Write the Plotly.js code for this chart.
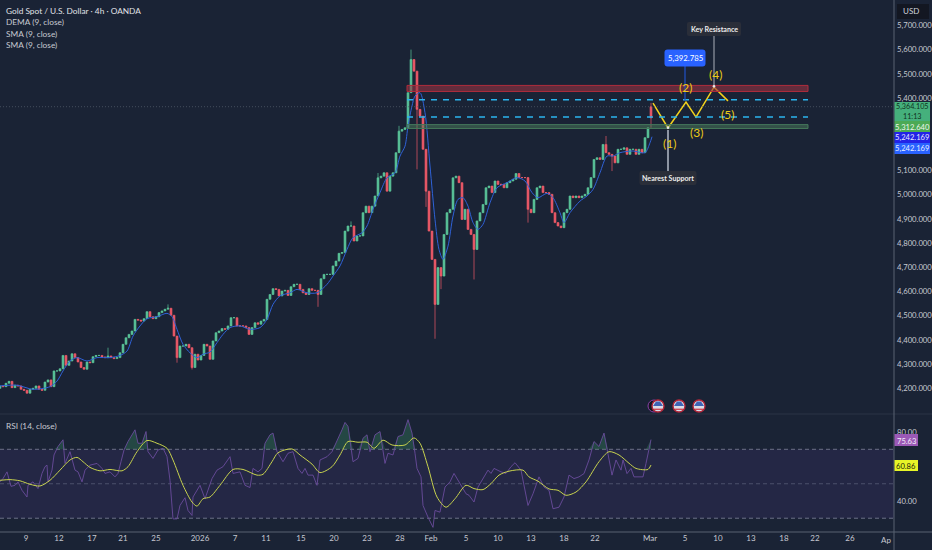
<!DOCTYPE html>
<html>
<head>
<meta charset="utf-8">
<script src="https://cdn.plot.ly/plotly-3.0.1.min.js"></script>
<style>html,body{margin:0;padding:0;background:#1a2335;overflow:hidden}</style>
</head>
<body>
<div id="chart" style="width:932px;height:550px"></div>
<script>
// Candle closes, one bar every 3 time units
const closes = [
4210,4207,4221,4229,4203,4213,4210,4196,4192,4180,
4196,4200,4210,4196,4192,4226,4235,4207,4272,4272,
4281,4336,4295,4313,4343,4327,4309,4286,4279,4309,
4306,4331,4336,4336,4330,4327,4334,4327,4323,4327,
4347,4382,4409,4423,4437,4485,4482,4478,4488,4517,
4496,4488,4496,4513,4520,4527,4531,4502,4416,4327,
4375,4375,4382,4368,4286,4341,4317,4336,4382,4375,
4320,4396,4430,4437,4447,4444,4458,4492,4492,4458,
4458,4458,4451,4423,4451,4471,4465,4478,4485,4568,
4588,4612,4609,4582,4602,4605,4584,4620,4630,4630,
4609,4595,4588,4612,4605,4605,4588,4653,4671,4671,
4671,4706,4726,4758,4761,
4850,4871,4871,4809,4830,4830,4926,4953,4926,4953,4995,5070,
5077,5091,5015,5077,5091,5174,5263,5270,5277,5422,
5559,5511,5353,5325,5188,5015,4850,4733,4547,4699,
4664,4836,4926,4940,5070,5077,5050,4898,4940,4857,
4836,4774,4892,4926,4960,5029,5036,5009,5057,5043,
5043,5029,5050,5057,5064,5088,5071,5071,5071,4940,
4926,4981,5029,5036,5009,5009,5002,4926,4885,4871,
4864,4926,4940,4995,4988,4995,4988,4995,5002,5029,
5071,5146,5153,5146,5208,5174,5167,5160,5132,5188,
5188,5194,5167,5188,5188,5167,5188,5174,5236,5277,
5318];
const lastOpen = 5364;
const firstOpen = 4200;
const wickHighs = {36:4368,56:4547,117:4890,137:5600,202:5243,217:5380,133:5285,126:5090};
const wickLows = {59:4306,64:4278,106:4537,139:5105,142:4950,145:4405,147:4610,158:4650,176:4885,204:5098,217:5277};

const smaTime = [0,17,33,50,57,63,70,77,87,97,110,120,127,133,140,147,157,167,172,177,183,190,197,203,210,217,223,230,240,250,260,267,273,280,290,297,307,317,327,333,340,347,353,362,367,373,380,387,395,400,405,408,412,415,420,425,430,435,439,443,448,453,458,463,468,473,478,483,490,497,507,517,525,532,538,547,553,560,564,570,580,587,593,600,607,613,620,633,645,650,652];
const smaValues = [4210,4213,4196,4207,4230,4272,4313,4327,4313,4327,4327,4336,4354,4416,4458,4488,4496,4510,4496,4444,4382,4347,4327,4341,4350,4389,4423,4451,4458,4444,4451,4485,4547,4582,4595,4609,4595,4595,4630,4664,4706,4774,4823,4843,4871,4940,5009,5070,5091,5160,5201,5284,5367,5408,5422,5339,5119,4898,4774,4733,4788,4912,4981,4988,4953,4885,4857,4878,4967,5029,5050,5071,5057,5009,4988,5006,4988,4926,4885,4926,4974,4995,5022,5091,5160,5160,5174,5181,5174,5215,5240];

const rsiTime = [0,3,7,8,11,15,18,22,27,28,33,38,42,45,47,48,52,54,58,63,65,70,75,78,82,85,90,97,102,105,110,115,118,121,124,128,135,138,142,146,148,153,158,163,167,170,173,177,180,185,188,192,193,200,205,212,217,223,230,233,240,245,250,253,258,262,265,270,273,277,283,288,293,298,302,305,308,313,317,320,327,332,337,342,345,348,353,358,363,367,370,375,380,385,388,393,398,403,408,412,415,417,421,423,428,433,435,440,445,450,454,458,463,466,469,474,478,483,488,491,494,501,506,511,515,521,524,528,533,539,544,549,553,559,564,569,574,579,584,589,594,599,604,608,612,616,621,623,627,631,634,639,643,646,651];
const rsiValues = [51.1,53,56.9,55,48.5,49.1,51.1,46.2,42.3,49.1,51.1,47.2,56,59.9,60.8,51.1,57.9,66.7,71.6,75.5,61.8,68.6,57.9,56.9,51.1,57.9,60.8,61.8,58.9,56,56.9,54,56,62.8,69.6,74.5,81.3,73.5,73.5,80.3,68.6,64.7,69.6,70.6,65.7,52,29.6,29.6,37.4,41.9,34.5,31.6,42.3,49.1,41.3,53,57.9,59.9,65.7,56,56.9,49.1,47.8,58.9,56.9,58.9,73.5,78.4,79.4,68.6,62.8,67.7,68.6,58.9,56,58.9,55,55,49.1,63.8,65.7,68.6,74.5,81.3,85.6,83.3,62.8,64.7,76.4,78.4,68.6,78.4,80.3,61.8,67.7,66.7,77.4,78.4,87.2,79.4,67.7,58.9,54,37.4,30.6,24.7,34.5,33.5,48.1,51.1,56,52,47.2,44.2,43.3,39.4,48.1,53,57.9,56,58.9,56.9,56,59.9,62.2,57.9,48.1,37.4,44.2,54,48.1,46.2,35.5,36.4,42.3,55,53,54,55.9,63.8,74.5,71.6,79.4,66.7,55,63.8,57.9,63.8,55.9,58.9,54,54,54,61.8,75.63];

const rsiMaTime = [0,10,20,30,40,50,60,70,77,83,90,100,110,122,128,137,147,157,167,173,183,192,197,203,210,220,233,243,257,263,272,278,292,300,312,320,332,340,348,358,367,374,383,392,405,414,420,428,437,446,455,466,474,483,491,499,509,523,529,538,549,558,566,576,586,599,609,619,629,636,648,651];
const rsiMaValues = [52,52.4,51.7,49.7,48.7,52,57.9,63.8,65.3,62.8,59.5,57.5,58.3,57.5,59.9,68.6,75.1,73.5,70.6,63.8,49.1,39.4,37,41.3,42.3,49.1,58.3,58.3,55,55.5,62.8,68,70.2,66.7,61.4,56.5,59.9,66.7,74.5,74.1,74.1,70.6,75.3,72.5,72.5,76.6,73.5,59.9,42.3,36.4,41.3,49.1,47.2,46.6,50.1,55,57.3,57.9,54,51.5,47,46.2,43.3,45.2,51.1,62.8,68.6,66.7,61.9,58.9,58.3,60.86];

const zigzagTime = [653,668,686,696,714,728];
const zigzagPrice = [5379,5276,5383,5321,5445,5388];
const zoneTime = [407,808];
const resistanceZone = [5427,5452];
const supportZone = [5274,5290];
const dashedLevels = [5392.785,5321];
const currentPrice = 5364;

const priceTicks = [4200,4300,4400,4500,4600,4700,4800,4900,5000,5100,5400,5500,5600,5700];
const timeTickVals = [26,59,92,123,156,200,235,266,301,334,367,400,431,466,498,531,564,595,650,685,718,751,784,815,850];
const timeTickText = ['9','12','17','21','25','2026','7','11','15','20','23','28','Feb','5','10','13','18','22','Mar','5','10','13','18','22','26'];
const legendLines = ['Gold Spot / U.S. Dollar · 4h · OANDA','DEMA (9, close)','SMA (9, close)','SMA (9, close)'];
const waveLabels = [['(1)',669,143],['(2)',685,87],['(3)',696,132],['(4)',715,74],['(5)',727,114]];
const eventTimes = [658,679,699];

const W=894,H=532;
const px=x=>x/W, py=y=>1-y/H;
const FONT='Lato, "Liberation Sans", sans-serif';
const TXT='#c6c9d1';
const AX=7.7;

const x=closes.map((_,i)=>i*3);
const opens=closes.map((c,i)=>i===0?firstOpen:(i===closes.length-1?lastOpen:closes[i-1]));
const highs=closes.map((c,i)=>wickHighs[i]!==undefined?wickHighs[i]:Math.max(c,opens[i]));
const lows=closes.map((c,i)=>wickLows[i]!==undefined?wickLows[i]:Math.min(c,opens[i]));

const traces=[
 {type:'candlestick',x:x,open:opens,high:highs,low:lows,close:closes,xaxis:'x',yaxis:'y',hoverinfo:'skip',whiskerwidth:0,
  increasing:{line:{color:'#5ac59a',width:.7},fillcolor:'#5ac59a'},
  decreasing:{line:{color:'#ee5a68',width:.7},fillcolor:'#ee5a68'}},
 {type:'scatter',mode:'lines',x:smaTime,y:smaValues,xaxis:'x',yaxis:'y',hoverinfo:'skip',line:{color:'#2f62d8',width:1,shape:'spline',smoothing:.8}},
 {type:'scatter',mode:'lines',x:zigzagTime,y:zigzagPrice,xaxis:'x',yaxis:'y',hoverinfo:'skip',line:{color:'#f2d21c',width:1.5}},
 {type:'scatter',mode:'lines',x:rsiTime,y:rsiValues.map(()=>70),xaxis:'x',yaxis:'y2',hoverinfo:'skip',line:{width:0,color:'rgba(0,0,0,0)'}},
 {type:'scatter',mode:'lines',x:rsiTime,y:rsiValues.map(v=>Math.max(v,70)),xaxis:'x',yaxis:'y2',hoverinfo:'skip',fill:'tonexty',fillcolor:'rgba(60,150,100,.32)',line:{width:0,color:'rgba(0,0,0,0)'}},
 {type:'scatter',mode:'lines',x:rsiTime,y:rsiValues,xaxis:'x',yaxis:'y2',hoverinfo:'skip',line:{color:'#6a4c9c',width:.9}},
 {type:'scatter',mode:'lines',x:rsiMaTime,y:rsiMaValues,xaxis:'x',yaxis:'y2',hoverinfo:'skip',line:{color:'#c8d34e',width:1,shape:'spline',smoothing:.8}}
];

const shapes=[];
const ann=[];
function hline(y0,yr,col,w,dash,layer){shapes.push({type:'line',xref:'x',yref:yr,x0:0,x1:W,y0:y0,y1:y0,line:{color:col,width:w,dash:dash||'solid'},layer:layer||'above'});}
// RSI band
shapes.push({type:'rect',xref:'x',yref:'y2',x0:0,x1:W,y0:30,y1:70,fillcolor:'#242745',line:{width:0},layer:'below'});
hline(70,'y2','#7f8499',.8,'4px,3px','below');
hline(50,'y2','#555a74',.8,'4px,3px','below');
hline(30,'y2','#7f8499',.8,'4px,3px','below');
// zones
shapes.push({type:'rect',xref:'x',yref:'y',x0:zoneTime[0],x1:zoneTime[1],y0:resistanceZone[0],y1:resistanceZone[1],fillcolor:'rgba(150,50,65,.6)',line:{color:'#b02c3c',width:1}});
shapes.push({type:'rect',xref:'x',yref:'y',x0:zoneTime[0],x1:zoneTime[1],y0:supportZone[0],y1:supportZone[1],fillcolor:'rgba(75,125,92,.5)',line:{color:'#44785a',width:1}});
dashedLevels.forEach(l=>shapes.push({type:'line',xref:'x',yref:'y',x0:zoneTime[0],x1:zoneTime[1],y0:l,y1:l,line:{color:'#2bb5ee',width:1.5,dash:'6px,6px'}}));
hline(currentPrice,'y','#56606f',.7,'1px,2px');
// callout stems
shapes.push({type:'line',xref:'x',yref:'paper',x0:668,x1:668,y0:py(130),y1:py(172),line:{color:'#8d95a3',width:2}});
shapes.push({type:'line',xref:'x',yref:'paper',x0:714,x1:714,y0:py(36),y1:py(87),line:{color:'#aab0ba',width:1}});
shapes.push({type:'line',xref:'x',yref:'paper',x0:685,x1:685,y0:py(66),y1:py(101),line:{color:'#2151c8',width:1.2}});
shapes.push({type:'circle',xref:'x',yref:'paper',x0:666.7,x1:669.3,y0:py(126.3),y1:py(129),fillcolor:'#e6e6e6',line:{width:0}});
shapes.push({type:'circle',xref:'x',yref:'paper',x0:712.7,x1:715.3,y0:py(85),y1:py(87.7),fillcolor:'#e6e6e6',line:{width:0}});
// panel separators
shapes.push({type:'line',xref:'paper',yref:'paper',x0:0,x1:px(932),y0:py(414),y1:py(414),line:{color:'#2a3547',width:1}});
shapes.push({type:'line',xref:'paper',yref:'paper',x0:0,x1:px(932),y0:py(532),y1:py(532),line:{color:'#586273',width:1}});
shapes.push({type:'line',xref:'paper',yref:'paper',x0:px(894),x1:px(894),y0:py(0),y1:py(550),line:{color:'#586273',width:1}});
// event icons
shapes.push({type:'circle',xref:'x',yref:'paper',x0:648,x1:660,y0:py(400),y1:py(412),fillcolor:'#12161f',line:{color:'#8a3fa8',width:1}});
eventTimes.forEach(t=>{
 shapes.push({type:'circle',xref:'x',yref:'paper',x0:t-6,x1:t+6,y0:py(400),y1:py(412),fillcolor:'#d9dde8',line:{color:'#b3263a',width:1.4}});
 shapes.push({type:'path',xref:'x',yref:'paper',path:`M${t-5},${py(406)} L${t+5},${py(406)} L${t+2},${py(401.5)} L${t-2},${py(401.5)} Z`,fillcolor:'#3f63b5',line:{width:0}});
 shapes.push({type:'line',xref:'x',yref:'paper',x0:t-4,x1:t+4,y0:py(409.3),y1:py(409.3),line:{color:'#d24b5a',width:1.4}});
});
// rounded box helper (x in time units, y in pixels from the top)
function round(x0,x1,y0,y1,r,bg){
 const q=(a,b)=>`${a},${py(b)}`;
 shapes.push({type:'path',xref:'x',yref:'paper',fillcolor:bg,line:{width:0},path:
  `M${q(x0+r,y0)} L${q(x1-r,y0)} Q${q(x1,y0)} ${q(x1,y0+r)} L${q(x1,y1-r)} Q${q(x1,y1)} ${q(x1-r,y1)} L${q(x0+r,y1)} Q${q(x0,y1)} ${q(x0,y1-r)} L${q(x0,y0+r)} Q${q(x0,y0)} ${q(x0+r,y0)} Z`});
}
// USD box
shapes.push({type:'rect',xref:'paper',yref:'paper',x0:px(897),x1:px(929),y0:py(4),y1:py(19),fillcolor:'#131722',line:{width:0}});
ann.push({xref:'paper',yref:'paper',x:px(901),y:py(11.5),xanchor:'left',yanchor:'middle',text:'USD',showarrow:false,font:{family:FONT,size:8,color:'#d1d4dc'}});
// legend text
legendLines.forEach((t,i)=>ann.push({xref:'paper',yref:'paper',x:px(4),y:py(i===0?11:11+i*11.3),xanchor:'left',yanchor:'middle',text:t,showarrow:false,font:{family:FONT,size:8.3,color:i===0?'#e0e2e7':'#c6c9d1'}}));
ann.push({xref:'paper',yref:'paper',x:px(4),y:py(426),xanchor:'left',yanchor:'middle',text:'RSI (14, close)',showarrow:false,font:{family:FONT,size:8.3,color:'#c6c9d1'}});
// wave numbers
waveLabels.forEach(w=>ann.push({xref:'x',yref:'paper',x:w[1],y:py(w[2]),text:w[0],showarrow:false,xanchor:'center',yanchor:'middle',font:{family:FONT,size:12,color:'#eccb16'}}));
// callouts
function callout(t,cx,cy,w,h,bg,col,size,r){
 round(cx-w/2,cx+w/2,cy-h/2,cy+h/2,r,bg);
 ann.push({xref:'x',yref:'paper',x:cx,y:py(cy),text:t,showarrow:false,xanchor:'center',yanchor:'middle',font:{family:FONT,size:size,color:col}});
}
callout('<b>Key Resistance</b>',714,29,54,14,'#2a2e39','#ececec',7.1,2);
callout('<b>Nearest Support</b>',668,178,57,14,'#2a2e39','#ececec',7.1,2);
callout('5,392.785',685,58,41,17,'#2962ff','#ffffff',7.8,3);
// price tags
function tag(y0,y1,bg,xe,lines,col,sz){
 shapes.push({type:'rect',xref:'paper',yref:'paper',x0:px(894.5),x1:px(xe),y0:py(y0),y1:py(y1),fillcolor:bg,line:{width:0}});
 lines.forEach(l=>ann.push({xref:'paper',yref:'paper',x:px((894+xe)/2),y:py(l[1]),text:l[0],showarrow:false,xanchor:'center',yanchor:'middle',font:{family:FONT,size:sz||7.6,color:col}}));
}
tag(102,121,'#45b07c',930,[['5,364.105',106.5],['11:13',116.2]],'#10331f',7.2);
tag(121,132,'#4caa55',930,[['5,312.640',126.7]],'#eef6ee');
tag(132,143,'#2323e6',930,[['5,242.169',137.5]],'#e8e8ff');
tag(143,154,'#2962ff',930,[['5,242.169',148]],'#e8eeff');
tag(434,446,'#9b59b6',918,[['75.63',440.5]],'#f5eefa');
tag(460,471,'#e6f527',918,[['60.86',466]],'#20220a');
ann.push({xref:'paper',yref:'paper',x:px(893),y:py(540),xanchor:'right',yanchor:'middle',text:'Ap',showarrow:false,font:{family:FONT,size:8,color:TXT}});

const layout={
 width:932,height:550,margin:{l:0,r:38,t:0,b:18,pad:0},boxgap:0.12,
 paper_bgcolor:'#1a2335',plot_bgcolor:'#1a2335',showlegend:false,dragmode:false,hovermode:false,
 xaxis:{type:'linear',range:[0,W],anchor:'y2',showgrid:false,zeroline:false,showline:false,ticks:'',tickmode:'array',tickvals:timeTickVals,ticktext:timeTickText,tickangle:0,
  tickfont:{family:FONT,size:8,color:TXT},rangeslider:{visible:false}},
 yaxis:{domain:[(H-414)/H,1],range:[4094,5805],side:'right',anchor:'x',showgrid:false,zeroline:false,showline:false,ticks:'',tickmode:'array',tickvals:priceTicks,ticklabelstandoff:2,
  ticktext:priceTicks.map(p=>p.toLocaleString('en-US',{minimumFractionDigits:3})),tickfont:{family:FONT,size:AX,color:TXT}},
 yaxis2:{domain:[0,(H-415)/H],range:[22,89.9],side:'right',anchor:'x',showgrid:false,zeroline:false,showline:false,ticks:'',tickmode:'array',tickvals:[80,40],ticklabelstandoff:2,ticktext:['80.00','40.00'],tickfont:{family:FONT,size:AX,color:TXT}},
 shapes:shapes,annotations:ann
};
Plotly.newPlot('chart',traces,layout,{displayModeBar:false,staticPlot:true});
</script>
</body>
</html>
